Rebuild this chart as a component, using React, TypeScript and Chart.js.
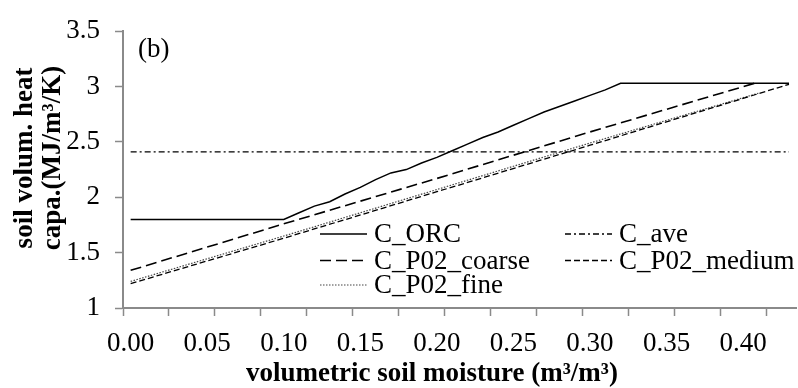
import React, { useEffect, useRef } from 'react';
import { Chart, registerables } from 'chart.js';

Chart.register(...registerables);

// ---- data ----
const MOISTURE = [
  '0.00', '0.01', '0.02', '0.03', '0.04', '0.05', '0.06', '0.07', '0.08', '0.09',
  '0.10', '0.11', '0.12', '0.13', '0.14', '0.15', '0.16', '0.17', '0.18', '0.19',
  '0.20', '0.21', '0.22', '0.23', '0.24', '0.25', '0.26', '0.27', '0.28', '0.29',
  '0.30', '0.31', '0.32', '0.33', '0.34', '0.35', '0.36', '0.37', '0.38', '0.39',
  '0.40', '0.41', '0.42', '0.43',
];

const C_ORC = [
  1.80, 1.80, 1.80, 1.80, 1.80, 1.80, 1.80, 1.80, 1.80, 1.80,
  1.80, 1.86, 1.92, 1.96, 2.03, 2.09, 2.16, 2.22, 2.25, 2.31,
  2.36, 2.42, 2.48, 2.54, 2.59, 2.65, 2.71, 2.77, 2.82, 2.87,
  2.92, 2.97, 3.03, 3.03, 3.03, 3.03, 3.03, 3.03, 3.03, 3.03,
  3.03, 3.03, 3.03, 3.03,
];

const N = null;
const C_AVE = [
  2.41, N, N, N, N, N, N, N, N, N,
  N, N, N, N, N, N, N, N, N, N,
  N, N, N, N, N, N, N, N, N, N,
  N, N, N, N, N, N, N, N, N, N,
  N, N, N, 2.41,
];

const C_P02_COARSE = [
  1.34, N, N, N, N, N, N, N, N, N,
  1.76, N, N, N, N, N, N, N, N, N,
  2.17, N, N, N, N, N, N, N, N, N,
  2.59, N, N, N, N, N, N, N, N, N,
  N, 3.04, N, N,
];

const C_P02_MEDIUM = [
  1.22, N, N, N, N, N, N, N, N, N,
  1.63, N, N, N, N, N, N, N, N, N,
  2.05, N, N, N, N, N, N, N, N, N,
  2.47, N, N, N, N, N, N, N, N, N,
  N, N, N, 3.02,
];

const C_P02_FINE = [
  1.24, N, N, N, N, N, N, N, N, N,
  1.65, N, N, N, N, N, N, N, N, N,
  2.07, N, N, N, N, N, N, N, N, N,
  2.49, N, N, N, N, N, N, N, N, N,
  N, 2.94, N, N,
];

const Y_TICKS = [1, 1.5, 2, 2.5, 3, 3.5];
const X_TITLE = 'volumetric soil moisture (m³/m³)';
const Y_TITLE = ['soil volum. heat', 'capa.(MJ/m³/K)'];
const PANEL_LABEL = '(b)';

const SERIF = '"Liberation Serif", "Times New Roman", serif';
const AXIS_GREY = '#8a8a8a';

// legend order (Excel, 2 columns, row-wise)
const LEGEND_ORDER = ['C_ORC', 'C_ave', 'C_P02_coarse', 'C_P02_medium', 'C_P02_fine'];

const textPlugin = {
  id: 'customText',
  afterDraw(chart: any) {
    const ctx = chart.ctx as CanvasRenderingContext2D;
    const area = chart.chartArea;
    ctx.save();

    // panel label
    ctx.fillStyle = '#000';
    ctx.font = `27px ${SERIF}`;
    ctx.textAlign = 'left';
    ctx.textBaseline = 'middle';
    ctx.fillText(PANEL_LABEL, area.left + 15, 50);

    // legend
    const colX = [320, 565];
    const rowY = [234, 260.5, 285];
    const sampleLen = 47;
    LEGEND_ORDER.forEach((name, k) => {
      const ds = chart.data.datasets.find((d: any) => d.label === name);
      if (!ds) return;
      const col = k % 2;
      const row = Math.floor(k / 2);
      const x0 = colX[col];
      const y0 = rowY[row];
      ctx.save();
      ctx.strokeStyle = ds.borderColor;
      ctx.lineWidth = ds.borderWidth;
      ctx.setLineDash(ds.borderDash || []);
      ctx.beginPath();
      ctx.moveTo(x0, y0);
      ctx.lineTo(x0 + sampleLen, y0);
      ctx.stroke();
      ctx.restore();
      ctx.fillStyle = '#000';
      ctx.font = `27px ${SERIF}`;
      ctx.textAlign = 'left';
      ctx.textBaseline = 'middle';
      ctx.fillText(name, x0 + sampleLen + 7, y0 + 1);
    });

    // x title
    ctx.font = `bold 27px ${SERIF}`;
    ctx.textAlign = 'center';
    ctx.textBaseline = 'middle';
    ctx.fillStyle = '#000';
    ctx.fillText(X_TITLE, 432, 374);

    // y title
    ctx.translate(39, 158);
    ctx.rotate(-Math.PI / 2);
    ctx.font = `bold 27px ${SERIF}`;
    ctx.fillText(Y_TITLE[0], 0, -14);
    ctx.fillText(Y_TITLE[1], 0, 14);

    ctx.restore();
  },
};

export default function App() {
  const canvasRef = useRef<HTMLCanvasElement | null>(null);

  useEffect(() => {
    const canvas = canvasRef.current;
    if (!canvas) return;
    const chart = new Chart(canvas, {
      type: 'line',
      data: {
        labels: MOISTURE,
        datasets: [
          {
            label: 'C_ORC',
            data: C_ORC,
            borderColor: '#000',
            borderWidth: 1.5,
            borderDash: [],
          },
          {
            label: 'C_ave',
            data: C_AVE,
            borderColor: '#000',
            borderWidth: 1.3,
            borderDash: [6, 3, 2, 3],
          },
          {
            label: 'C_P02_coarse',
            data: C_P02_COARSE,
            borderColor: '#000',
            borderWidth: 1.6,
            borderDash: [11, 5],
          },
          {
            label: 'C_P02_medium',
            data: C_P02_MEDIUM,
            borderColor: '#000',
            borderWidth: 1.3,
            borderDash: [6, 3],
          },
          {
            label: 'C_P02_fine',
            data: C_P02_FINE,
            borderColor: '#444',
            borderWidth: 1.2,
            borderDash: [1.5, 1.5],
          },
        ],
      },
      options: {
        responsive: false,
        animation: false,
        spanGaps: true,
        elements: {
          point: { radius: 0, hoverRadius: 0 },
          line: { tension: 0, fill: false },
        },
        layout: { padding: { top: 18, right: 1, left: 0, bottom: 0 } },
        plugins: {
          legend: { display: false },
          tooltip: { enabled: false },
          title: { display: false },
        },
        scales: {
          x: {
            type: 'category',
            offset: true,
            afterFit: (s: any) => {
              s.height = 80;
            },
            border: { display: true, color: AXIS_GREY, width: 2 },
            grid: {
              offset: true,
              drawOnChartArea: false,
              drawTicks: true,
              tickLength: 8,
              tickWidth: 1.5,
              tickColor: (c: any) => (c.index % 3 === 0 ? AXIS_GREY : 'rgba(0,0,0,0)'),
            },
            ticks: {
              autoSkip: false,
              maxRotation: 0,
              minRotation: 0,
              padding: 12,
              color: '#000',
              font: { family: SERIF, size: 27 },
              callback: (_v: any, i: number) => (i % 5 === 0 ? MOISTURE[i] : ''),
            },
          },
          y: {
            type: 'linear',
            min: Y_TICKS[0],
            max: Y_TICKS[Y_TICKS.length - 1],
            afterFit: (s: any) => {
              s.width = 123;
            },
            afterBuildTicks: (s: any) => {
              s.ticks = Y_TICKS.map((v) => ({ value: v }));
            },
            border: { display: true, color: AXIS_GREY, width: 2 },
            grid: {
              drawOnChartArea: false,
              drawTicks: true,
              tickLength: 8,
              tickWidth: 1.5,
              tickColor: AXIS_GREY,
            },
            ticks: {
              padding: 15,
              color: '#000',
              font: { family: SERIF, size: 27 },
              callback: (v: any) => String(v),
            },
          },
        },
      },
      plugins: [textPlugin],
    } as any);
    return () => chart.destroy();
  }, []);

  return (
    <div
      style={{
        position: 'absolute',
        left: 0,
        top: 0,
        width: 798,
        height: 388,
        overflow: 'hidden',
        background: '#fff',
      }}
    >
      <canvas ref={canvasRef} width={801} height={388} style={{ display: 'block' }} />
    </div>
  );
}
